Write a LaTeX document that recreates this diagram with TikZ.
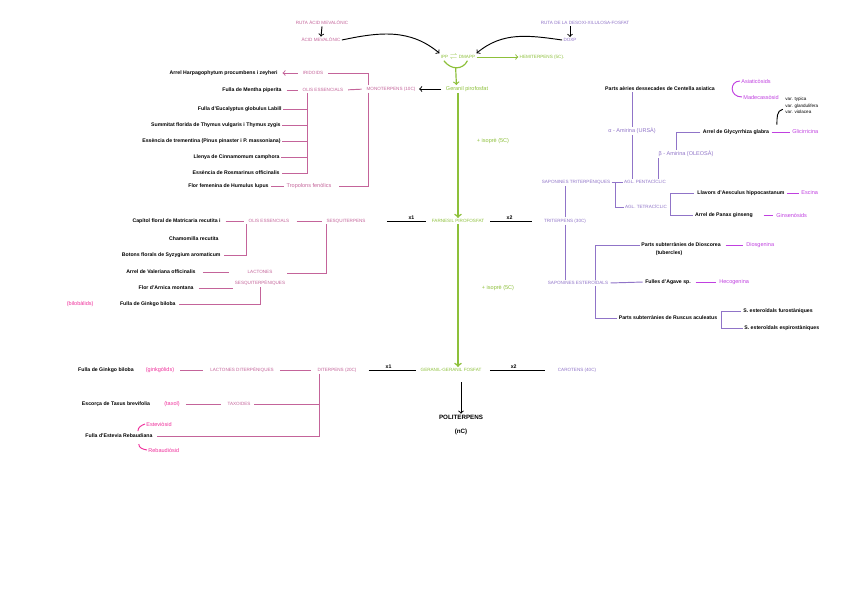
\documentclass[tikz,border=0pt]{standalone}
\usepackage{fontspec}
\setmainfont{Liberation Sans}
\usepackage{amsmath}
\definecolor{rosa}{HTML}{C4649A}
\definecolor{verd}{HTML}{8DC03A}
\definecolor{lila}{HTML}{9074C8}
\definecolor{viol}{HTML}{C040E0}
\definecolor{fucsia}{HTML}{F0309C}

\begin{document}
\begin{tikzpicture}[x=0.85pt, y=-0.85pt,
    lletra/.style={inner sep=1pt, font=\fontsize{4.7}{5.5}\selectfont},
    negre/.style={inner sep=1pt, font=\fontsize{4.4}{5.5}\selectfont\bfseries},
    maj/.style={inner sep=1pt, font=\fontsize{3.9}{5.5}\selectfont},
    txtrosa/.style={maj, text=rosa},
    txtlila/.style={maj, text=lila},
    txtverd/.style={maj, text=verd},
    txtviol/.style={lletra, text=viol},
    txtfucsia/.style={lletra, text=fucsia},
    linrosa/.style={draw=rosa, line width=0.8pt},
    linlila/.style={draw=lila, line width=0.8pt},
    linverd/.style={draw=verd, line width=1.3pt},
    linviol/.style={draw=viol, line width=0.8pt},
    linfucsia/.style={draw=fucsia, line width=0.8pt},
    linnegre/.style={draw=black, line width=0.8pt}]

    \path[fill=white] (0,0) rectangle (848,599);

    % rutes d'origen
    \node[txtrosa] (rutamev) at (322,23) {RUTA ÀCID MEVALÒNIC};
    \node[txtrosa] (mev) at (321,40) {ÀCID MEVALÒNIC};
    \node[txtlila] (rutadoxp) at (585,23) {RUTA DE LA DESOXI-XILULOSA-FOSFAT};
    \node[txtlila] (doxp) at (570,40) {DOXP};
    \node[txtverd] (ipp) at (458,57) {IPP $\rightleftharpoons$ DMAPP};
    \node[txtverd] (hemi) at (542,57) {HEMITERPENS (5C).};
    \draw[linnegre, ->] (rutamev.south) -- (mev.north);
    \draw[linnegre, ->] (rutadoxp.south -| doxp.north) -- (doxp.north);
    \draw[linnegre, ->] (mev.east) to[out=12, in=140] (ipp.north west);
    \draw[linnegre, ->] (doxp.west) to[out=172, in=40] (ipp.north east);
    \draw[linverd, line width=0.8pt, ->] (ipp.east) -- (hemi.west);

    \node[txtverd, lletra] (gpp) at (467,89) {Geranil pirofosfat};
    \draw[linverd, line width=1pt] ([xshift=-12pt]ipp.south) .. controls ([xshift=-6pt, yshift=-8pt]ipp.south) and ([xshift=4pt, yshift=-8pt]ipp.south) .. ([xshift=8pt]ipp.south);
    \draw[linverd, line width=1pt, ->] ([xshift=-2pt, yshift=-6pt]ipp.south) -- ([xshift=-9pt]gpp.north);

    % monoterpens
    \node[txtrosa] (mono) at (391,89) {MONOTERPENS (10C)};
    \node[txtrosa] (oliM) at (323,90) {OLIS ESSENCIALS};
    \node[txtrosa] (iri) at (313,73) {IRIDOIDS};
    \node[txtrosa, lletra] (tropo) at (309,186) {Tropolons fenòlics};
    \node[negre, anchor=east] (harpago) at (279,73) {Arrel Harpagophytum procumbens i zeyheri};
    \node[negre, anchor=east] (mentha) at (283,90) {Fulla de Mentha piperita};
    \node[negre, anchor=east] (eucal) at (283,109) {Fulla d'Eucalyptus globulus Labill};
    \node[negre, anchor=east] (thymus) at (282,125) {Summitat florida de Thymus vulgaris i Thymus zygis};
    \node[negre, anchor=east] (trement) at (282,141) {Essència de trementina (Pinus pinaster i P. massoniana)};
    \node[negre, anchor=east] (cinnam) at (281,157) {Llenya de Cinnamomum camphora};
    \node[negre, anchor=east] (rosmar) at (281,173) {Essència de Rosmarinus officinalis};
    \node[negre, anchor=east] (humulus) at (270,186) {Flor femenina de Humulus lupus};

    \draw[linnegre, ->, shorten <=3pt, shorten >=2pt] (gpp.west) -- (mono.east);
    \draw[linrosa, shorten <=3pt, shorten >=3pt] (oliM.east) -- (mono.west);
    \draw[linrosa, shorten <=3pt] (iri.east) -| ([xshift=-19pt]mono.north);
    \draw[linrosa, ->, shorten <=3pt, shorten >=3pt] (iri.west) -- (harpago.east);
    \draw[linrosa, shorten <=3pt, shorten >=3pt] (mentha.east) -- (oliM.west);
    \coordinate (olisM) at ([xshift=-13.6pt]oliM.south);
    \draw[linrosa, shorten >=1pt] (olisM) |- (rosmar.east);
    \foreach \n in {eucal,thymus,trement,cinnam}
        \draw[linrosa] (\n.east) -- (\n.east -| olisM);
    \draw[linrosa, shorten >=5pt] ([xshift=-19pt]mono.south) |- (tropo.east);
    \draw[linrosa, shorten <=1pt, shorten >=1pt] (humulus.east) -- (tropo.west);

    % farnesil pirofosfat
    \node[txtverd] (fpp) at (458,221) {FARNESIL PIROFOSFAT};
    \node[txtverd, lletra] (iso1) at (493,141) {+ isoprè (5C)};
    \draw[linverd, ->] (fpp.north |- gpp.south) -- (fpp.north);

    % sesquiterpens
    \node[txtrosa] (sesq) at (346,221) {SESQUITERPENS};
    \node[txtrosa] (oliS) at (269,221) {OLIS ESSENCIALS};
    \node[txtrosa, font=\fontsize{3.9}{9.5}\selectfont, align=center] (lact) at (260,278) {LACTONES\\SESQUITERPÈNIQUES};
    \node[negre, anchor=east] (matric) at (222,221) {Capítol floral de Matricaria recutita i};
    \node[negre, anchor=east] (chamom) at (220,239) {Chamomilla recutita};
    \node[negre, anchor=east] (syzyg) at (222,255) {Botons florals de Syzygium aromaticum};
    \node[negre, anchor=east] (valer) at (197,272) {Arrel de Valeriana officinalis};
    \node[negre, anchor=east] (arnica) at (195,288) {Flor d'Arnica montana};
    \node[negre, anchor=east] (biloba) at (177,304) {Fulla de Ginkgo biloba};
    \node[txtfucsia, anchor=east] (bilobal) at (95,304) {(bilobàlids)};

    \draw[linnegre, shorten <=17pt, shorten >=4pt] (sesq.east) -- (fpp.west) node[negre, pos=0.7, above] {x1};
    \draw[linrosa, shorten <=5pt, shorten >=3pt] (oliS.east) -- (sesq.west);
    \draw[linrosa, shorten <=3pt, shorten >=3pt] (matric.east) -- (oliS.west);
    \draw[linrosa, shorten <=2pt] (syzyg.east) -| ([xshift=-19pt]oliS.south);
    \draw[linrosa] ([xshift=1pt]sesq.south west) |- ([yshift=4pt]lact.east);
    \draw[linrosa, shorten <=5pt, shorten >=4pt] (valer.east) -- (valer.east -| lact.west);
    \draw[linrosa, shorten <=3pt] (arnica.east) -- (arnica.east -| lact.west);
    \draw[linrosa, shorten <=2pt] (biloba.east) -| (lact.south);

    % triterpens
    \node[txtlila] (tri) at (565,221) {TRITERPENS (30C)};
    \node[txtlila] (saptri) at (576,182) {SAPONINES TRITERPÈNIQUES};
    \node[txtlila] (penta) at (645,182) {AGL. PENTACÍCLIC};
    \node[txtlila] (tetra) at (646,207) {AGL. TETRACÍCLIC};
    \node[txtlila, lletra] (alfa) at (632,131) {α - Amirina (URSÀ)};
    \node[txtlila, lletra] (beta) at (686,154) {β - Amirina (OLEOSÀ)};
    \node[negre] (centella) at (660,89) {Parts aèries dessecades de Centella asiatica};
    \node[txtviol, anchor=west] (asiat) at (740,81) {Asiaticòsids};
    \node[txtviol, anchor=west] (madec) at (742,97) {Madecassòsid};
    \node[negre] (glyc) at (736,132) {Arrel de Glycyrrhiza glabra};
    \node[txtviol, anchor=west] (glici) at (791,132) {Glicirricina};
    \node[negre, font=\fontsize{3.9}{5.5}\selectfont, anchor=north west, align=left] (vars) at (784,96) {var. typica\\var. glandulifera\\var. violacea};
    \node[negre] (aescul) at (741,193) {Llavors d'Aesculus hippocastanum};
    \node[txtviol, anchor=west] (escina) at (800,193) {Escina};
    \node[negre] (panax) at (724,215) {Arrel de Panax ginseng};
    \node[txtviol, anchor=west] (ginsen) at (775,215) {Ginsenòsids};

    \draw[linnegre, shorten <=4pt, shorten >=9pt] (fpp.east) -- (tri.west) node[negre, pos=0.42, above] {x2};
    \draw[linlila] (tri.north) -- (tri.north |- saptri.south);
    \draw[linlila] (saptri.east) -- (penta.west) (saptri.east) ++(4,0) |- (tetra.west);
    \draw[linlila] (alfa.north) -- (alfa.north |- centella.south);
    \draw[linlila] (alfa.south) -- (alfa.south |- penta.north);
    \draw[linlila] ([xshift=-23pt]beta.south) -- ([xshift=-23pt]beta.south |- penta.north);
    \draw[linlila, shorten <=1pt] (glyc.west) -| ([xshift=-8pt]beta.north);
    \draw[linviol] (asiat.west) .. controls ([xshift=-9pt]asiat.west) and ([xshift=-11pt]madec.west) .. (madec.west);
    \draw[linnegre] ([xshift=-1pt, yshift=5pt]vars.south west) to[out=190, in=90] ([xshift=-6pt, yshift=-8pt]vars.south west);
    \draw[linviol, shorten <=1pt, shorten >=1pt] (glyc.east) -- (glici.west);
    \draw[linlila, shorten <=2pt, shorten >=1pt] (aescul.west) -| ([xshift=2pt]tetra.east) |- (panax.west);
    \draw[linviol, shorten <=1pt, shorten >=1pt] (aescul.east) -- (escina.west);
    \draw[linviol, shorten <=8pt, shorten >=2pt] (panax.east) -- (ginsen.west);

    % saponines esteroidals
    \node[txtlila] (sapest) at (578,283) {SAPONINES ESTEROÏDALS};
    \node[negre] (diosc) at (681,245) {Parts subterrànies de Dioscorea};
    \node[negre] (tuberc) at (669,253) {(tubercles)};
    \node[txtviol, anchor=west] (diosg) at (745,245) {Diosgenina};
    \node[negre] (agave) at (668,282) {Fulles d'Agave sp.};
    \node[txtviol, anchor=west] (hecog) at (718,282) {Hecogenina};
    \node[negre] (ruscus) at (668,318) {Parts subterrànies de Ruscus aculeatus};
    \node[negre, anchor=west] (furo) at (742,311) {S. esteroïdals furostàniques};
    \node[negre, anchor=west] (espiro) at (743,328) {S. esteroïdals espirostàniques};

    \draw[linlila] (tri.south) -- (tri.south |- sapest.north);
    \draw[linlila, shorten <=1pt, shorten >=1pt] (sapest.east) -- (agave.west);
    \draw[linlila] (diosc.west) -| ([xshift=14.5pt]sapest.north);
    \draw[linlila] (ruscus.west) -| ([xshift=14.5pt]sapest.south);
    \draw[linlila, shorten <=1pt] (furo.west) -| ([xshift=2pt]ruscus.east) |- (espiro.west);
    \draw[linviol, shorten <=3pt, shorten >=2pt] (diosc.east) -- (diosg.west);
    \draw[linviol, shorten <=3pt, shorten >=2pt] (agave.east) -- (hecog.west);

    % geranil-geranil
    \node[txtverd] (ggpp) at (451,370) {GERANIL-GERANIL FOSFAT};
    \node[txtverd, lletra] (iso2) at (498,288) {+ isoprè (5C)};
    \node[txtlila] (car) at (577,370) {CAROTENS (40C)};
    \node[negre, font=\fontsize{5.3}{12}\selectfont\bfseries, align=center] (poli) at (461,425) {POLITERPENS\\(nC)};
    \draw[linverd, ->] (fpp.south) -- (fpp.south |- ggpp.north);
    \draw[linnegre, shorten <=6pt, shorten >=10pt] (ggpp.east) -- (car.west) node[negre, pos=0.42, above] {x2};
    \draw[linnegre, ->, shorten <=8pt] (ggpp.south -| poli.north) -- (poli.north);

    % diterpens
    \node[txtrosa] (di) at (337,370) {DITERPENS (20C)};
    \node[txtrosa] (lactdi) at (242,370) {LACTONES DITERPÈNIQUES};
    \node[negre] (ginkD) at (106,370) {Fulla de Ginkgo biloba};
    \node[txtfucsia] (ginkgol) at (160,370) {(ginkgòlids)};
    \node[txtrosa] (taxo) at (239,404) {TAXOIDES};
    \node[negre] (taxus) at (116,404) {Escorça de Taxus brevifolia};
    \node[txtfucsia] (taxol) at (172,404) {(taxol)};
    \node[negre] (stevia) at (119,436) {Fulla d'Estevia Rebaudiana};
    \node[txtfucsia, anchor=west] (stevio) at (145,424) {Esteviòsid};
    \node[txtfucsia, anchor=west] (rebau) at (147,450) {Rebaudiòsid};

    \draw[linnegre, shorten <=9pt, shorten >=3pt] (di.east) -- (ggpp.west) node[negre, pos=0.5, above] {x1};
    \draw[linrosa, shorten <=4pt, shorten >=4pt] (lactdi.east) -- (di.west);
    \draw[linrosa, shorten <=4pt, shorten >=5pt] (ginkgol.east) -- (lactdi.west);
    \draw[linrosa, shorten <=4pt, shorten >=4pt] (taxol.east) -- (taxo.west);
    \coordinate (diV) at ([xshift=-14.5pt]di.south);
    \draw[linrosa, shorten >=3pt] (diV) |- (stevia.east);
    \draw[linrosa, shorten <=2pt] (taxo.east) -- (taxo.east -| diV);
    \draw[linfucsia] (stevio.west) to[out=200, in=90] ([xshift=-6pt, yshift=-6pt]stevio.west);
    \draw[linfucsia] (rebau.west) to[out=170, in=270] ([xshift=-7pt, yshift=5pt]rebau.west);
\end{tikzpicture}
\end{document}
